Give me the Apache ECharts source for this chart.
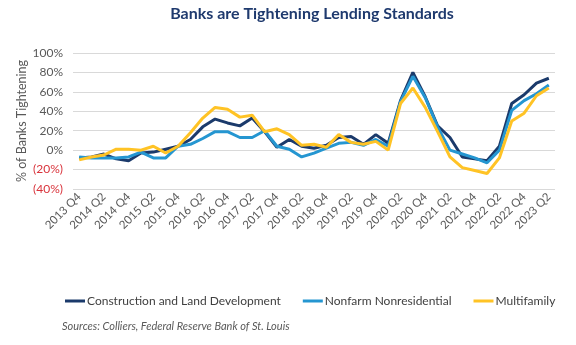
<!DOCTYPE html>
<html>
<head>
<meta charset="utf-8">
<script src="https://cdn.jsdelivr.net/npm/echarts@6/dist/echarts.min.js"></script>
<style>
html,body{margin:0;padding:0;background:#fff;}
#c{width:576px;height:345px;}
</style>
</head>
<body>
<div id="c"></div>
<script>
const quarters = [
  "2013 Q4",
  "2014 Q1","2014 Q2","2014 Q3","2014 Q4",
  "2015 Q1","2015 Q2","2015 Q3","2015 Q4",
  "2016 Q1","2016 Q2","2016 Q3","2016 Q4",
  "2017 Q1","2017 Q2","2017 Q3","2017 Q4",
  "2018 Q1","2018 Q2","2018 Q3","2018 Q4",
  "2019 Q1","2019 Q2","2019 Q3","2019 Q4",
  "2020 Q1","2020 Q2","2020 Q3","2020 Q4",
  "2021 Q1","2021 Q2","2021 Q3","2021 Q4",
  "2022 Q1","2022 Q2","2022 Q3","2022 Q4",
  "2023 Q1","2023 Q2"
];
const construction = [-8,-7,-4,-9,-11,-3,-2,1,4,11,24,32,28,25,33,19,3,11,4,2,5,13,14,6,16,7,51,80,55,25,13,-7,-9,-11,4,48,57,69,74];
const nonfarm = [-7,-8,-8,-8,-7,-2,-8,-8,4,6,12,19,19,13,13,20,4,1,-7,-3,2,7,8,5,11,4,50,76,54,24,0,-4,-8,-13,0,41,51,58,67];
const multifamily = [-10,-7,-5,1,1,0,4,-3,4,18,33,44,42,34,36,19,22,16,5,6,3,16,8,6,9,0,48,64,44,19,-7,-18,-21,-24,-8,30,38,56,64];

const seriesNames = ["Construction and Land Development","Nonfarm Nonresidential","Multifamily"];
const colors = ["#1B3A6B","#2596D1","#FFC325"];
const FONT = "Lato";

const chart = echarts.init(document.getElementById('c'), null, {renderer:'canvas'});
chart.setOption({
  animation:false,
  textStyle:{fontFamily:FONT},
  title:{
    text:"Banks are Tightening Lending Standards",
    left:307, top:1, textAlign:'center',
    textStyle:{fontFamily:FONT, fontSize:16, fontWeight:'bold', color:'#1F3A6E'}
  },
  grid:{left:73, right:21, top:53, bottom:156},
  legend:{
    data:seriesNames,
    left:60, top:290, width:560,
    icon:'rect', itemWidth:20, itemHeight:3, itemGap:22,
    textStyle:{fontFamily:FONT, fontSize:12, color:'#404040', padding:[0,0,0,-3]}
  },
  graphic:[{
    type:'text', left:62, top:321,
    style:{text:"Sources: Colliers, Federal Reserve Bank of St. Louis", font:"italic 11px Lato", fill:'#595959'}
  }],
  xAxis:{
    type:'category', data:quarters, boundaryGap:true,
    axisLine:{show:false}, axisTick:{show:false},
    axisLabel:{interval:1, rotate:45, fontSize:11.5, color:'#595959', margin:6, fontFamily:FONT}
  },
  yAxis:{
    type:'value', min:-40, max:100, interval:20,
    name:"% of Banks Tightening", nameLocation:'middle', nameGap:45, nameRotate:90,
    nameMoveOverlap:false,
    nameTextStyle:{fontFamily:FONT, fontSize:12.5, color:'#595959'},
    axisLine:{show:false}, axisTick:{show:false},
    splitLine:{lineStyle:{color:'#D9D9D9', width:1}},
    axisLabel:{
      fontSize:12, color:'#595959', margin:10, fontFamily:FONT,
      formatter:function(v){ return v<0 ? '{neg|(' + Math.abs(v) + '%)}' : v + '%'; },
      rich:{neg:{color:'#D9343C', fontSize:12, fontFamily:FONT}}
    }
  },
  series:[
    {name:seriesNames[0], type:'line', data:construction, symbol:'none', lineStyle:{width:3, color:colors[0]}, itemStyle:{color:colors[0]}, z:3},
    {name:seriesNames[1], type:'line', data:nonfarm, symbol:'none', lineStyle:{width:3, color:colors[1]}, itemStyle:{color:colors[1]}, z:4},
    {name:seriesNames[2], type:'line', data:multifamily, symbol:'none', lineStyle:{width:3, color:colors[2]}, itemStyle:{color:colors[2]}, z:5}
  ]
});
</script>
</body>
</html>
